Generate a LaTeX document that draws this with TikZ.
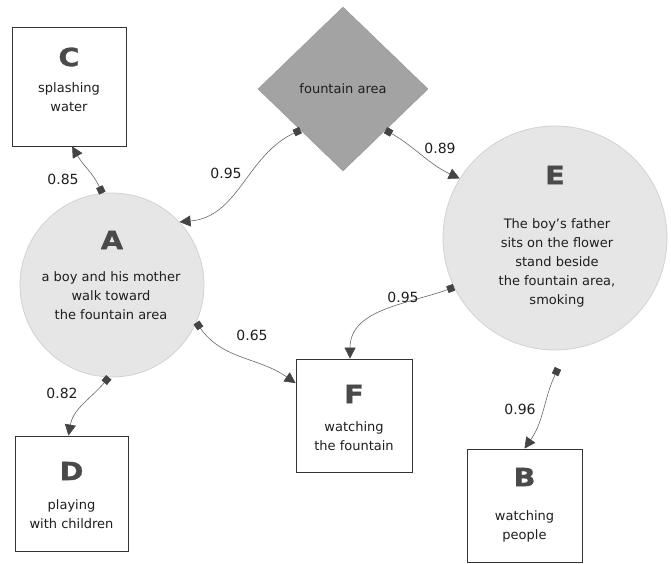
\documentclass[tikz,border=0pt]{standalone}
\usepackage{fontspec}
\setmainfont{DejaVu Sans}
\newfontfamily\letfont[FakeBold=1.2,FakeStretch=1.15]{DejaVu Sans Bold}
\usetikzlibrary{arrows.meta,shapes.geometric,calc}
\definecolor{letc}{HTML}{4A4A4A}
\definecolor{txtc}{HTML}{1E1E1E}
\definecolor{circf}{HTML}{E6E6E6}
\definecolor{circd}{HTML}{D2D2D2}
\definecolor{diaf}{HTML}{A3A3A3}
\definecolor{boxd}{HTML}{333333}
\definecolor{edgec}{HTML}{666666}
\definecolor{markc}{HTML}{444444}
\begin{document}
\begin{tikzpicture}[x=1pt,y=1pt,
  boxnode/.style={draw=boxd,line width=0.8pt,fill=white,inner sep=0pt,rectangle},
  circnode/.style={draw=circd,line width=0.8pt,fill=circf,inner sep=0pt,circle},
  letter/.style={font=\fontsize{25}{25}\letfont,text=letc,inner sep=0pt},
  desc/.style={font=\fontsize{13}{19}\selectfont,text=txtc,align=center,inner sep=0pt},
  wlabel/.style={font=\fontsize{14}{16}\selectfont,text=txtc,inner sep=0pt},
  link/.style={draw=edgec,line width=0.6pt,
    {Square[length=7pt,width=7pt,color=markc]}-{Triangle[length=11pt,width=11pt,color=markc]}}
]
\useasboundingbox (0,0) rectangle (671,563);
% nodes
\node[boxnode,minimum width=114pt,minimum height=119pt] (C) at (69,476.5) {};
\node[boxnode,minimum width=113pt,minimum height=115pt] (D) at (71.5,69.5) {};
\node[boxnode,minimum width=116pt,minimum height=113pt] (F) at (354,147.5) {};
\node[boxnode,minimum width=115pt,minimum height=113pt] (B) at (524.5,57.5) {};
\node[circnode,minimum size=184pt] (A) at (112,278) {};
\node[circnode,minimum size=224pt] (E) at (555,325) {};
\node[diamond,fill=diaf,draw=diaf!90!black,line width=0.4pt,inner sep=0pt,
      minimum width=170pt,minimum height=164pt] (fa) at (343,474) {};
% texts
\node[letter] (Cl) at (69,506) {C};
\node[desc] (Ct) at (69,466) {splashing\\water};
\node[letter] (Dl) at (71.5,92) {D};
\node[desc] (Dt) at (71.5,49) {playing\\with children};
\node[letter] (Fl) at (354,169) {F};
\node[desc] (Ft) at (354,127) {watching\\the fountain};
\node[letter] (Bl) at (524.5,86) {B};
\node[desc] (Bt) at (524.5,37) {watching\\people};
\node[letter] (Al) at (112,323) {A};
\node[desc] (At) at (111,267) {a boy and his mother\\walk toward\\the fountain area};
\node[letter] (El) at (555,388) {E};
\node[desc] (Et) at (557,300.5) {The boy's father\\sits on the flower\\stand beside\\the fountain area,\\smoking};
\node[desc] (fat) at (343,474) {fountain area};
% connectors
\draw[link] (A.96) to[out=115,in=-60] (C.-87);
\draw[link] (fa.south west) to[out=205,in=5] (A.43);
\draw[link] (fa.south east) to[out=-30,in=155] (E.148);
\draw[link] (A.-24) to[out=-55,in=145] (F.151);
\draw[link] (E.206) to[out=200,in=90] (F.94);
\draw[link] (A.-92) to[out=-130,in=80] (D.93);
\coordinate (Eb) at ($(E.south)+(3,-18)$);
\draw[link] (Eb) to[out=-115,in=55] (B.north);
% labels
\node[wlabel] (l1) at (63,384) {0.85};
\node[wlabel] (l2) at (226,390) {0.95};
\node[wlabel] (l3) at (440,415) {0.89};
\node[wlabel] (l4) at (252,228) {0.65};
\node[wlabel] (l5) at (403,266) {0.95};
\node[wlabel] (l6) at (62,170) {0.82};
\node[wlabel] (l7) at (520,154) {0.96};
\end{tikzpicture}
\end{document}
